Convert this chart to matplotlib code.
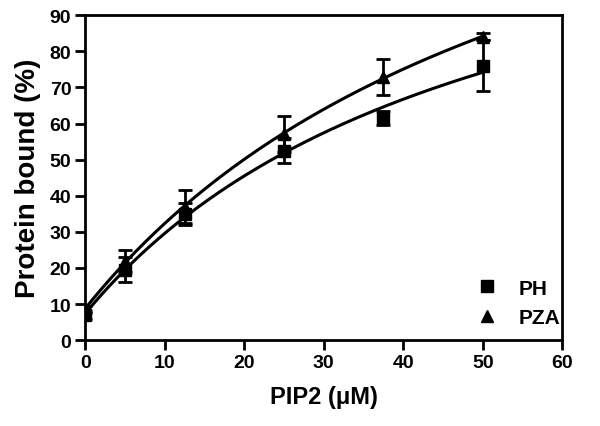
import numpy as np
import matplotlib
matplotlib.use('Agg')
import matplotlib.pyplot as plt

plt.rcParams['font.family'] = ['Liberation Sans', 'DejaVu Sans']
plt.rcParams['font.weight'] = 'bold'

# PIP2 concentration (uM)
pip2 = [0, 5, 12.5, 25, 37.5, 50]

# protein bound (%) with SEM
ph = [7, 19.5, 35, 52.5, 61.5, 76]
ph_err = [1, 3.5, 3, 3.5, 2, 7]
pza = [8.5, 22, 37, 57, 73, 84]
pza_err = [1, 3, 4.5, 5, 5, 1]


def fit_hyperbola(x, y):
    # y = y0 + bmax*x/(kd+x), grid search on kd, linear lsq for y0, bmax
    x = np.asarray(x, float)
    y = np.asarray(y, float)
    best = None
    for kd in np.linspace(1, 500, 2000):
        A = np.column_stack([np.ones_like(x), x / (kd + x)])
        coef, res, _, _ = np.linalg.lstsq(A, y, rcond=None)
        sse = np.sum((A @ coef - y) ** 2)
        if best is None or sse < best[0]:
            best = (sse, kd, coef)
    _, kd, (y0, bmax) = best
    return lambda t: y0 + bmax * t / (kd + t)


fig = plt.figure(figsize=(6, 4.27), dpi=100)
ax = fig.add_axes([0.142, 0.201, 0.795, 0.761])

xs = np.linspace(0, 50, 200)
for y, err, mk, lab in [(ph, ph_err, 's', 'PH'), (pza, pza_err, '^', 'PZA')]:
    f = fit_hyperbola(pip2, y)
    ax.plot(xs, f(xs), color='black', lw=2.2)
    ax.errorbar(pip2, y, yerr=err, fmt=mk, color='black', ms=8,
                capsize=5, elinewidth=2, capthick=2, label=lab)

ax.set_xlim(0, 60)
ax.set_ylim(0, 90)
ax.set_xticks(range(0, 61, 10))
ax.set_yticks(range(0, 91, 10))
ax.tick_params(direction='out', length=7, width=2, labelsize=14, pad=3)
for sp in ax.spines.values():
    sp.set_linewidth(2)
for t in ax.get_xticklabels() + ax.get_yticklabels():
    t.set_fontweight('bold')

ax.set_xlabel('PIP2 (\u03bcM)', fontsize=17, fontweight='bold', labelpad=10)
ax.set_ylabel('Protein bound (%)', fontsize=20, fontweight='bold', labelpad=6)

h, l = ax.get_legend_handles_labels()
h = [hh[0] for hh in h]
ax.legend(h, l, loc='lower right', bbox_to_anchor=(1.013, 0.015),
          frameon=False, fontsize=15, handlelength=1, handletextpad=1.0,
          borderaxespad=0.0, labelspacing=0.5)

fig.savefig('out.png', dpi=100)
